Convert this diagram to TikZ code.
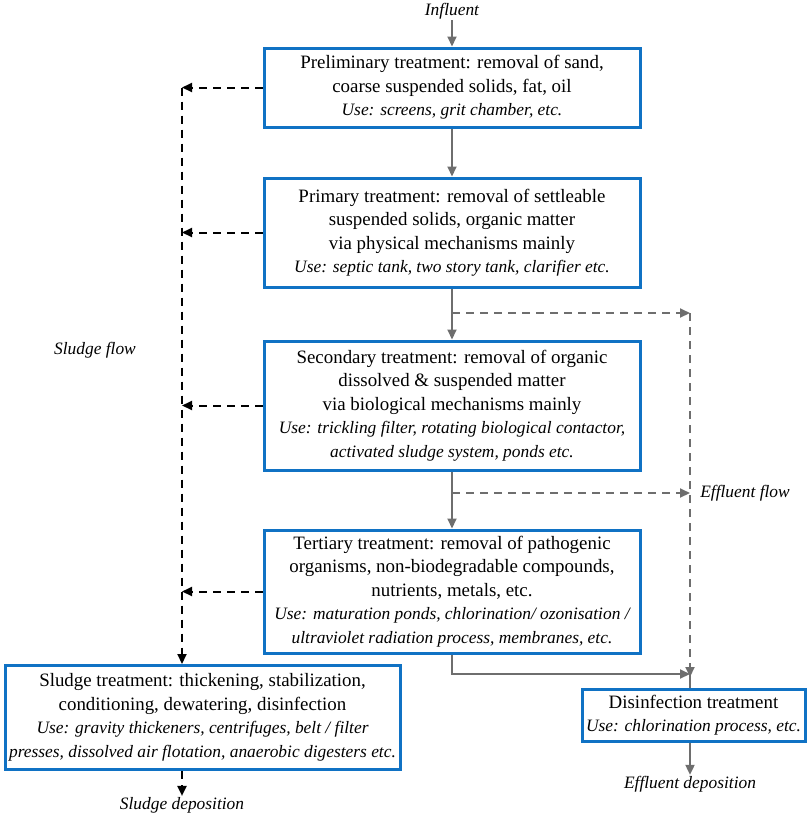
\documentclass[tikz,border=0pt]{standalone}
\usepackage{fontspec}
\setmainfont{Liberation Serif}
\usetikzlibrary{arrows.meta}
\definecolor{boxblue}{RGB}{16,114,196}
\definecolor{arrgray}{RGB}{110,110,110}
\newcommand\useit[1]{{\fontsize{17.4}{23.5}\selectfont\itshape #1}}
\begin{document}
\begin{tikzpicture}[x=1pt,y=-1pt,
  tbox/.style={draw=boxblue,line width=3pt,fill=white,align=center,inner sep=0pt,
    font=\fontsize{18.9}{23.5}\selectfont},
  lbl/.style={font=\fontsize{17.4}{20}\selectfont\itshape,inner sep=1pt},
  garrow/.style={draw=arrgray,line width=2pt,-{Triangle[length=10pt,width=9pt]}},
  gline/.style={draw=arrgray,line width=2pt},
  gdash/.style={draw=arrgray,line width=2pt,dash pattern=on 8pt off 6pt,-{Triangle[length=10pt,width=9pt]}},
  kdash/.style={draw=black,line width=2pt,dash pattern=on 8pt off 6pt,-{Triangle[length=10pt,width=9pt]}}]
\useasboundingbox (0,0) rectangle (809,820);

\node[lbl] (inf) at (452,11) {Influent};

\node[tbox,minimum width=376pt,minimum height=79pt] (b1) at (452,87.5)
 {Preliminary treatment: removal of sand,\\ coarse suspended solids, fat, oil\\ \useit{Use: screens, grit chamber, etc.}};
\node[tbox,minimum width=376pt,minimum height=109pt] (b2) at (452,232.5)
 {Primary treatment: removal of settleable\\ suspended solids, organic matter\\ via physical mechanisms mainly\\ \useit{Use: septic tank, two story tank, clarifier etc.}};
\node[tbox,minimum width=376pt,minimum height=129pt] (b3) at (452,405.5)
 {Secondary treatment: removal of organic\\ dissolved \& suspended matter\\ via biological mechanisms mainly\\ \useit{Use: trickling filter, rotating biological contactor,}\\ \useit{activated sludge system, ponds etc.}};
\node[tbox,minimum width=376pt,minimum height=123pt] (b4) at (452,591.5)
 {Tertiary treatment: removal of pathogenic\\ organisms, non-biodegradable compounds,\\ nutrients, metals, etc.\\ \useit{Use: maturation ponds, chlorination/ ozonisation /}\\ \useit{ultraviolet radiation process, membranes, etc.}};
\node[tbox,minimum width=395pt,minimum height=104pt] (sl) at (202.5,717.5)
 {Sludge treatment: thickening, stabilization,\\ conditioning, dewatering, disinfection\\ \useit{Use: gravity thickeners, centrifuges, belt / filter}\\ \useit{presses, dissolved air flotation, anaerobic digesters etc.}};
\node[tbox,minimum width=223pt,minimum height=52pt] (dis) at (693.5,715)
 {Disinfection treatment\\ \useit{Use: chlorination process, etc.}};

\node[lbl] (sf) at (95,350) {Sludge flow};
\node[lbl] (ef) at (745,493) {Effluent flow};
\node[lbl] (ed) at (690,784) {Effluent deposition};
\node[lbl] (sd) at (182,805) {Sludge deposition};

% main flow
\draw[garrow] (inf) -- (b1);
\draw[garrow] (b1) -- (b2);
\draw[garrow] (b2) -- (b3);
\draw[garrow] (b3) -- (b4);

% effluent bypass
\coordinate (br1) at (452,313);
\coordinate (e1) at (690,313);
\coordinate (br2) at (452,493);
\coordinate (e2) at (690,493);
\coordinate (tb) at (452,674);
\coordinate (j) at (690,674);
\draw[gdash] (br1) -- (e1);
\draw[gdash] (e1) -- ([yshift=-3pt]j);
\draw[gdash] (br2) -- (e2);
\draw[garrow] (b4.south) -- (tb) -- (j);
\draw[gline] (j) -- (j |- dis.north);
\draw[garrow] (j |- dis.south) -- (ed);

% sludge flow
\coordinate (s1) at (182,87.5);
\coordinate (s2) at (182,232.5);
\coordinate (s3) at (182,405.5);
\coordinate (s4) at (182,591.5);
\draw[kdash] (b1.west) -- (s1);
\draw[kdash] (b2.west) -- (s2);
\draw[kdash] (b3.west) -- (s3);
\draw[kdash] (b4.west) -- (s4);
\draw[kdash] (s1) -- (s1 |- sl.north);
\draw[kdash] (s1 |- sl.south) -- (sd);
\end{tikzpicture}
\end{document}
